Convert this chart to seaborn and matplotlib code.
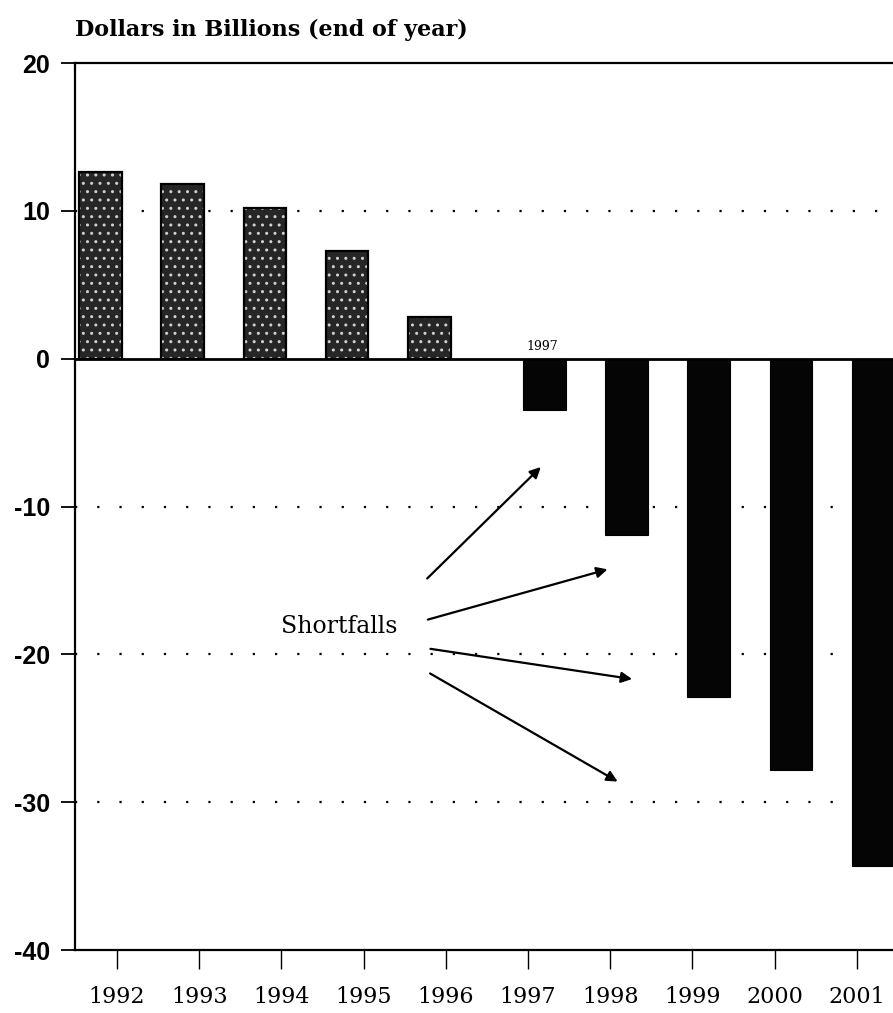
import matplotlib
matplotlib.use("Agg")
import matplotlib.pyplot as plt
from matplotlib.patches import Rectangle
import seaborn as sns
import pandas as pd

years = ["1992", "1993", "1994", "1995", "1996", "1997", "1998", "1999", "2000", "2001"]
values = [12.6, 11.8, 10.2, 7.3, 2.8, -3.5, -11.9, -22.9, -27.8, -34.3]
kinds = ["surplus" if v >= 0 else "shortfall" for v in values]
yticks = [20, 10, 0, -10, -20, -30, -40]
grid_levels = [10, -10, -20, -30]

sns.set_theme(style="white")
plt.rcParams["text.color"] = "black"
plt.rcParams["xtick.color"] = "black"
plt.rcParams["ytick.color"] = "black"
plt.rcParams["hatch.linewidth"] = 1.0

df = pd.DataFrame({"year": years, "value": values, "kind": kinds})

fig = plt.figure(figsize=(8.93, 10.13), dpi=100)
ax = fig.add_axes([75 / 893, 63 / 1013, 1 - 75 / 893, 887 / 1013])

sns.barplot(data=df, x="year", y="value", hue="kind", hue_order=["surplus", "shortfall"],
            palette={"surplus": "#262626", "shortfall": "#050505"}, dodge=True,
            width=0.8, legend=False, ax=ax, zorder=3)

for p in list(ax.patches):
    c = p.get_x() + p.get_width() / 2
    p.set_width(0.52)
    p.set_x(c - 0.26)
    if p.get_height() > 0:
        p.set_hatch("..")
        p.set_edgecolor("#d0d0d0")
        p.set_linewidth(0)
        ax.add_patch(Rectangle(p.get_xy(), p.get_width(), p.get_height(), fill=False,
                               edgecolor="black", lw=1.6, zorder=3.5))
    else:
        p.set_edgecolor("black")
        p.set_linewidth(0.8)

for g in grid_levels:
    ax.axhline(g, color="black", lw=1.6, ls=(0, (1, 9)), zorder=1)
ax.axhline(0, color="black", lw=2.0, zorder=4)

ax.set_xlim(-0.51, 9.44)
ax.set_ylim(-40, 20)
ax.set_yticks(yticks)
ax.set_yticklabels([str(t) for t in yticks], fontsize=18, fontweight="bold",
                   family="Liberation Sans")
ax.set_xticks(range(len(years)))
ax.set_xticklabels(years, fontsize=16, family="DejaVu Serif")
ax.set_xlabel("")
ax.set_ylabel("")
ax.tick_params(axis="y", direction="out", length=10, width=1.3, color="black", pad=8, left=True)
ax.tick_params(axis="x", direction="out", length=14, width=1.0, color="black", pad=12, bottom=True)

for s in ["left", "top", "bottom"]:
    ax.spines[s].set_color("black")
    ax.spines[s].set_linewidth(1.6)
ax.spines["right"].set_visible(False)

fig.text(75 / 893, 1 - 30 / 1013, "Dollars in Billions (end of year)", fontsize=16,
         fontweight="bold", family="DejaVu Serif", va="center", ha="left")

ax.text(5.17, 0.4, "1997", fontsize=9, family="DejaVu Serif", ha="center", va="bottom")

ax.text(2.71, -18.1, "Shortfalls", fontsize=17, family="DejaVu Serif", ha="center", va="center")

arrows = [((3.75, -15.0), (5.18, -7.2)),
          ((3.75, -17.7), (6.0, -14.2)),
          ((3.78, -19.6), (6.30, -21.7)),
          ((3.78, -21.2), (6.12, -28.7))]
for start, end in arrows:
    ax.annotate("", xy=end, xytext=start,
                arrowprops=dict(arrowstyle="-|>", color="black", lw=1.6, mutation_scale=16))

fig.savefig("out.png", dpi=100)
